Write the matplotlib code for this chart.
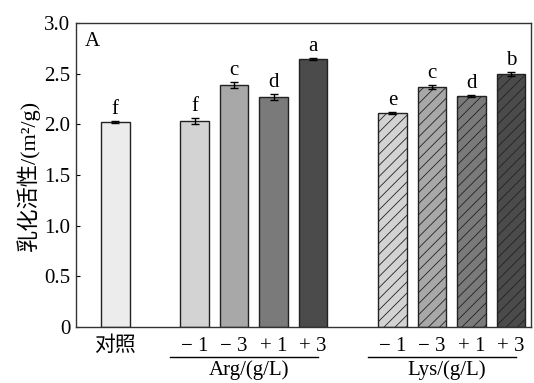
import matplotlib
matplotlib.use("Agg")
import matplotlib.pyplot as plt

plt.rcParams['font.family'] = ['Liberation Serif', 'Noto Sans CJK SC']
plt.rcParams['hatch.linewidth'] = 0.6

# data
groups = ["对照", "Arg", "Arg", "Arg", "Arg", "Lys", "Lys", "Lys", "Lys"]
levels = ["对照", "\u2212 1", "\u2212 3", "+ 1", "+ 3", "\u2212 1", "\u2212 3", "+ 1", "+ 3"]
values = [2.02, 2.03, 2.39, 2.27, 2.64, 2.11, 2.37, 2.28, 2.50]
errors = [0.01, 0.03, 0.03, 0.03, 0.01, 0.01, 0.02, 0.01, 0.02]
letters = ["f", "f", "c", "d", "a", "e", "c", "d", "b"]
colors = ["#ececec", "#d3d3d3", "#a8a8a8", "#7a7a7a", "#4b4b4b",
          "#d3d3d3", "#a8a8a8", "#7a7a7a", "#4b4b4b"]
positions = [1, 3, 4, 5, 6, 8, 9, 10, 11]

fig = plt.figure(figsize=(5.34, 3.83), dpi=100)
ax = fig.add_axes([0.142, 0.146, 0.852, 0.794])

for x, v, e, c, g, let in zip(positions, values, errors, colors, groups, letters):
    hatch = "///" if g == "Lys" else None
    ax.bar(x, v, width=0.72, color=c, edgecolor="#222222", linewidth=1.0,
           hatch=hatch, zorder=2)
    ax.errorbar(x, v, yerr=e, fmt="none", ecolor="black", elinewidth=1,
                capsize=3, capthick=1, zorder=3)
    ax.text(x, v + e + 0.02, let, ha="center", va="bottom", fontsize=15)

ax.set_xlim(0, 11.5)
ax.set_ylim(0, 3.0)
ax.set_yticks([0, 0.5, 1.0, 1.5, 2.0, 2.5, 3.0])
ax.set_yticklabels(["0", "0.5", "1.0", "1.5", "2.0", "2.5", "3.0"], fontsize=15)
ax.tick_params(axis="y", direction="in", length=3, pad=4)
ax.set_xticks(positions)
ax.set_xticklabels(levels, fontsize=15)
ax.tick_params(axis="x", length=0, pad=7)
ax.set_ylabel("乳化活性/(m²/g)", fontsize=16, labelpad=3)
ax.text(0.02, 0.97, "A", transform=ax.transAxes, ha="left", va="top", fontsize=15)

# group brackets under the axis
tr = ax.get_xaxis_transform()
for name, xs in [("Arg/(g/L)", positions[1:5]), ("Lys/(g/L)", positions[5:9])]:
    ax.plot([xs[0] - 0.62, xs[-1] + 0.13], [-0.099, -0.099], transform=tr,
            color="black", linewidth=1, clip_on=False)
    ax.text((xs[0] + xs[-1]) / 2 - 0.12, -0.11, name, transform=tr,
            ha="center", va="top", fontsize=15)

for s in ax.spines.values():
    s.set_linewidth(1.0)
    s.set_color("#333333")

fig.savefig("out.png", dpi=100)
